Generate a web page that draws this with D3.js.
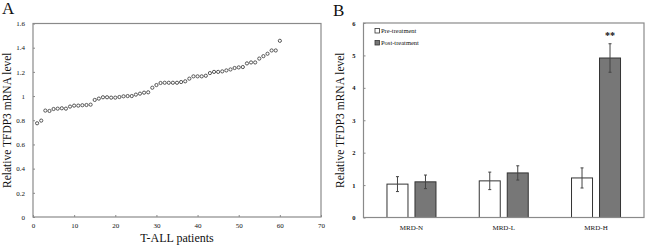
<!DOCTYPE html>
<html>
<head>
<meta charset="utf-8">
<script src="https://cdn.jsdelivr.net/npm/d3@7"></script>
<style>
  body { margin: 0; background: #fff; }
  text { font-family: "Liberation Serif", "Times New Roman", serif; fill: #111; }
</style>
</head>
<body>
<div id="chart"></div>
<script>
// Panel A: sorted relative TFDP3 mRNA levels for 60 T-ALL patients
const patientLevels = [
  0.775, 0.797, 0.880, 0.877, 0.893, 0.896, 0.899, 0.896, 0.913, 0.921,
  0.921, 0.924, 0.926, 0.929, 0.968, 0.979, 0.990, 0.990, 0.987, 0.987,
  0.992, 0.998, 1.000, 1.000, 1.012, 1.020, 1.028, 1.031, 1.069, 1.091,
  1.108, 1.110, 1.110, 1.110, 1.110, 1.116, 1.122, 1.144, 1.163, 1.163,
  1.163, 1.168, 1.190, 1.200, 1.200, 1.204, 1.212, 1.220, 1.232, 1.237,
  1.240, 1.270, 1.278, 1.278, 1.310, 1.330, 1.350, 1.377, 1.377, 1.457
];
const xTicksA = [0, 10, 20, 30, 40, 50, 60, 70];
const yTicksA = [0, 0.2, 0.4, 0.6, 0.8, 1, 1.2, 1.4, 1.6];

// Panel B: grouped bars
const groups = ["MRD-N", "MRD-L", "MRD-H"];
const seriesNames = ["Pre-treatment", "Post-treatment"];
const preMean = [1.03, 1.13, 1.22];
const preErr = [0.23, 0.27, 0.31];
const postMean = [1.10, 1.375, 4.92];
const postErr = [0.21, 0.22, 0.44];
const yTicksB = [0, 1, 2, 3, 4, 5, 6];
const seriesColors = ["#ffffff", "#777777"];

const W = 650, H = 245;
const svg = d3.select("#chart").append("svg")
  .attr("width", W).attr("height", H);

const frameColor = "#8a8a8a";

function frame(g, x0, x1, y0, y1) {
  g.append("rect")
    .attr("x", x0).attr("y", y0)
    .attr("width", x1 - x0).attr("height", y1 - y0)
    .attr("fill", "none").attr("stroke", frameColor).attr("stroke-width", 1.2);
}

// ---------- Panel A ----------
const a = { l: 33, r: 321, t: 23.5, b: 217 };
const xA = d3.scaleLinear().domain([0, 70]).range([a.l, a.r]);
const yA = d3.scaleLinear().domain([0, 1.6]).range([a.b, a.t]);
const gA = svg.append("g");

gA.append("g")
  .attr("transform", `translate(0,${a.b})`)
  .call(d3.axisBottom(xA).tickValues(xTicksA).tickSizeInner(-2).tickSizeOuter(0).tickPadding(6))
  .call(g => g.select(".domain").remove())
  .call(g => g.selectAll("line").attr("stroke", frameColor))
  .call(g => g.selectAll("text").style("font-size", "7px").style("font-family", "Liberation Serif"));

gA.append("g")
  .attr("transform", `translate(${a.l},0)`)
  .call(d3.axisLeft(yA).tickValues(yTicksA).tickFormat(d3.format("~g")).tickSizeInner(-2).tickSizeOuter(0).tickPadding(8))
  .call(g => g.select(".domain").remove())
  .call(g => g.selectAll("line").attr("stroke", frameColor))
  .call(g => g.selectAll("text").style("font-size", "7px").style("font-family", "Liberation Serif"));

frame(gA, a.l, a.r, a.t, a.b);

gA.selectAll("circle.pt")
  .data(patientLevels)
  .join("circle")
  .attr("class", "pt")
  .attr("cx", (d, i) => xA(i + 1))
  .attr("cy", d => yA(d))
  .attr("r", 1.6)
  .attr("fill", "#fff")
  .attr("stroke", "#555")
  .attr("stroke-width", 1);

gA.append("text")
  .attr("transform", `translate(11,${(a.t + a.b) / 2}) rotate(-90)`)
  .attr("text-anchor", "middle")
  .style("font-size", "11.5px")
  .text("Relative TFDP3 mRNA level");

gA.append("text")
  .attr("x", (a.l + a.r) / 2).attr("y", 242)
  .attr("text-anchor", "middle")
  .style("font-size", "12px")
  .text("T-ALL patients");

svg.append("text").attr("x", 2).attr("y", 14)
  .style("font-size", "17px").text("A");

// ---------- Panel B ----------
const b = { l: 363.5, r: 644, t: 23, b: 217.5 };
const x0 = d3.scaleBand().domain(groups).range([b.l, b.r]).paddingInner(0).paddingOuter(0.02);
const x1 = d3.scaleBand().domain(seriesNames)
  .range([x0.bandwidth() / 2 - 24.5, x0.bandwidth() / 2 + 24.5]).paddingInner(0.25);
const yB = d3.scaleLinear().domain([0, 6]).range([b.b, b.t]);
const gB = svg.append("g");

gB.append("g")
  .attr("transform", `translate(${b.l},0)`)
  .call(d3.axisLeft(yB).tickValues(yTicksB).tickFormat(d3.format("d")).tickSizeInner(-2).tickSizeOuter(0).tickPadding(8))
  .call(g => g.select(".domain").remove())
  .call(g => g.selectAll("line").attr("stroke", frameColor))
  .call(g => g.selectAll("text").style("font-size", "6.5px").style("font-weight", "bold").style("font-family", "Liberation Serif"));

gB.append("g")
  .attr("transform", `translate(0,${b.b})`)
  .call(d3.axisBottom(x0).tickSize(0).tickPadding(8))
  .call(g => g.select(".domain").remove())
  .call(g => g.selectAll("text").style("font-size", "7px").style("font-family", "Liberation Serif"));

const rows = groups.map((g, i) => ({
  group: g,
  values: [
    { s: seriesNames[0], m: preMean[i], e: preErr[i] },
    { s: seriesNames[1], m: postMean[i], e: postErr[i] }
  ]
}));

const grp = gB.selectAll("g.grp")
  .data(rows)
  .join("g")
  .attr("class", "grp")
  .attr("transform", d => `translate(${x0(d.group)},0)`);

grp.selectAll("rect")
  .data(d => d.values)
  .join("rect")
  .attr("x", d => x1(d.s))
  .attr("y", d => yB(d.m))
  .attr("width", x1.bandwidth())
  .attr("height", d => yB(0) - yB(d.m))
  .attr("fill", (d, i) => seriesColors[i])
  .attr("stroke", "#333")
  .attr("stroke-width", 1);

// error bars
grp.selectAll("line.err")
  .data(d => d.values)
  .join("line")
  .attr("class", "err")
  .attr("x1", d => x1(d.s) + x1.bandwidth() / 2)
  .attr("x2", d => x1(d.s) + x1.bandwidth() / 2)
  .attr("y1", d => yB(d.m - d.e))
  .attr("y2", d => yB(d.m + d.e))
  .attr("stroke", "#444").attr("stroke-width", 1);

grp.selectAll("path.cap")
  .data(d => d.values)
  .join("path")
  .attr("class", "cap")
  .attr("d", d => {
    const cx = x1(d.s) + x1.bandwidth() / 2;
    return `M${cx - 1.5},${yB(d.m + d.e)}H${cx + 1.5}M${cx - 1.5},${yB(d.m - d.e)}H${cx + 1.5}`;
  })
  .attr("stroke", "#444").attr("stroke-width", 1);

// significance marker
const hIdx = groups.indexOf("MRD-H");
gB.append("text")
  .attr("x", x0("MRD-H") + x1(seriesNames[1]) + x1.bandwidth() / 2)
  .attr("y", yB(postMean[hIdx] + postErr[hIdx]) - 5)
  .attr("text-anchor", "middle")
  .style("font-size", "10px").style("font-weight", "bold")
  .text("**");

frame(gB, b.l, b.r, b.t, b.b);

// legend
const leg = gB.selectAll("g.leg")
  .data(seriesNames)
  .join("g")
  .attr("class", "leg")
  .attr("transform", (d, i) => `translate(375,${31.5 + i * 12})`);
leg.append("rect")
  .attr("x", 0).attr("y", -3).attr("width", 4.5).attr("height", 4.5)
  .attr("fill", (d, i) => seriesColors[i]).attr("stroke", "#333").attr("stroke-width", 0.8);
leg.append("text")
  .attr("x", 6).attr("y", 1.8)
  .style("font-size", "6.5px")
  .text(d => d);

gB.append("text")
  .attr("transform", `translate(344,${(b.t + b.b) / 2}) rotate(-90)`)
  .attr("text-anchor", "middle")
  .style("font-size", "11.5px")
  .text("Relative TFDP3 mRNA level");

svg.append("text").attr("x", 333).attr("y", 16)
  .style("font-size", "17px").text("B");
</script>
</body>
</html>
